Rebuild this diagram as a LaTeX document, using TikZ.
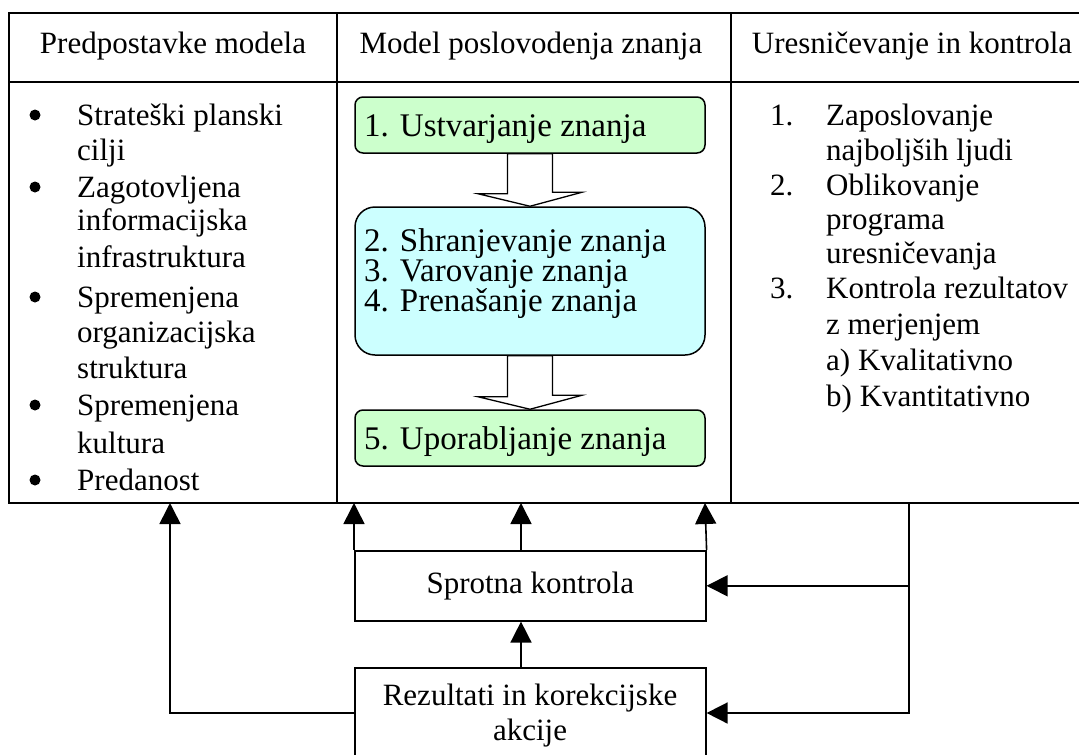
\documentclass[tikz,border=0pt]{standalone}
\usepackage{fontspec}
\setmainfont{Liberation Serif}
\usetikzlibrary{arrows.meta,calc}
\definecolor{boxgreen}{HTML}{CCFFCC}
\definecolor{boxcyan}{HTML}{CCFFFF}
\newcommand{\numitem}[2]{#1\hspace{11pt}#2}
\begin{document}
\begin{tikzpicture}[x=1pt,y=-1pt,
  font=\fontsize{31}{36}\selectfont,
  frame/.style={line width=2pt},
  conn/.style={line width=1.6pt,-{Triangle[width=21pt,length=21pt]}},
  gbox/.style={draw,line width=1.5pt,fill=boxgreen,rounded corners=8pt,minimum width=350pt,minimum height=56pt,inner sep=0pt},
  cbox/.style={draw,line width=1.5pt,fill=boxcyan,rounded corners=20pt,minimum width=350pt,minimum height=148pt,inner sep=0pt},
  rbox/.style={draw,line width=1.6pt,fill=white,minimum width=351pt,inner sep=0pt},
  blockarr/.style={draw,line width=1.3pt,fill=white,line join=miter},
  txt/.style={anchor=base west,inner sep=0pt},
  mtxt/.style={anchor=base west,inner sep=0pt,font=\fontsize{33}{36}\selectfont},
  ctxt/.style={anchor=base,inner sep=0pt},
  dot/.style={circle,fill=black,inner sep=0pt,minimum size=11pt},
]
\useasboundingbox (0,0) rectangle (1079,755);
\begin{scope}
\clip (0,0) rectangle (1079,755);
% table
\draw[frame] (1090,13) -- (9,13) -- (9,503) -- (1090,503);
\draw[frame] (9,82) -- (1090,82);
\draw[frame] (337,13) -- (337,503);
\draw[frame] (731,13) -- (731,503);
% headers
\node[ctxt] (h1) at (173,53) {Predpostavke modela};
\node[ctxt] (h2) at (531,53) {Model poslovodenja znanja};
\node[ctxt] (h3) at (912,53) {Uresničevanje in kontrola};
% left column
\node[dot] (b1) at (35,115) {};
\node[dot] (b2) at (35,187) {};
\node[dot] (b3) at (35,297) {};
\node[dot] (b4) at (35,405) {};
\node[dot] (b5) at (35,480) {};
\node[txt] (l1) at (77,125) {Strateški planski};
\node[txt] (l2) at (77,160) {cilji};
\node[txt] (l3) at (77,197) {Zagotovljena};
\node[txt] (l4) at (77,230) {informacijska};
\node[txt] (l5) at (77,267) {infrastruktura};
\node[txt] (l6) at (77,307) {Spremenjena};
\node[txt] (l7) at (77,342) {organizacijska};
\node[txt] (l8) at (77,378) {struktura};
\node[txt] (l9) at (77,415) {Spremenjena};
\node[txt] (l10) at (77,453) {kultura};
\node[txt] (l11) at (77,490) {Predanost};
% right column
\node[txt] (n1) at (770,125) {1.};
\node[txt] (r1) at (826,125) {Zaposlovanje};
\node[txt] (r2) at (826,160) {najboljših ljudi};
\node[txt] (n2) at (770,195) {2.};
\node[txt] (r3) at (826,195) {Oblikovanje};
\node[txt] (r4) at (826,229) {programa};
\node[txt] (r5) at (826,263) {uresničevanja};
\node[txt] (n3) at (770,298) {3.};
\node[txt] (r6) at (826,298) {Kontrola rezultatov};
\node[txt] (r7) at (826,334) {z merjenjem};
\node[txt] (r8) at (826,370) {a)\ Kvalitativno};
\node[txt] (r9) at (826,406) {b)\ Kvantitativno};
% middle boxes
\node[gbox] (g1) at (530,125) {};
\node[cbox] (c) at (530,281) {};
\node[gbox] (g5) at (530,438) {};
\node[mtxt] (m1) at (364,136) {\numitem{1.}{Ustvarjanje znanja}};
\node[mtxt] (m2) at (364,251) {\numitem{2.}{Shranjevanje znanja}};
\node[mtxt] (m3) at (364,281) {\numitem{3.}{Varovanje znanja}};
\node[mtxt] (m4) at (364,311) {\numitem{4.}{Prenašanje znanja}};
\node[mtxt] (m5) at (364,449) {\numitem{5.}{Uporabljanje znanja}};
% block arrows
\draw[blockarr] ([xshift=-22.5pt]g1.south) -- ++(0,40) -- ++(-29.5,0) -- (c.north) -- ++(52,-14) -- ++(-29.5,0) -- ([xshift=22.5pt]g1.south) -- cycle;
\draw[blockarr] ([xshift=-22.5pt]c.south) -- ++(0,41) -- ++(-29.5,0) -- (g5.north) -- ++(52,-14) -- ++(-29.5,0) -- ([xshift=22.5pt]c.south) -- cycle;
% lower boxes
\node[rbox,minimum height=70pt,anchor=north west] (spr) at (354,550) {Sprotna kontrola};
\node[rbox,minimum height=110pt,anchor=north west] (rez) at (354,667) {};
\node[ctxt] (rz1) at (530,705) {Rezultati in korekcijske};
\node[ctxt] (rz2) at (530,740) {akcije};
% coordinates on table bottom
\coordinate (t1) at (170,503);
\coordinate (t2) at (354,503);
\coordinate (t3) at (521,503);
\coordinate (t4) at (705,503);
\coordinate (t5) at (909,503);
\coordinate (rezL) at ($(rez.north west)+(0,46)$);
\coordinate (rezR) at ($(rez.north east)+(0,46)$);
% connectors
\draw[conn] (rezL) -| (t1);
\draw[conn] (spr.north west) -- (t2);
\draw[conn] (t3 |- spr.north) -- (t3);
\draw[conn] (spr.north east) -- (t4);
\draw[conn] (t3 |- rez.north) -- (t3 |- spr.south);
\draw[conn] (t5) |- (rezR);
\draw[conn] (t5 |- spr.east) -- (spr.east);
\end{scope}
\end{tikzpicture}
\end{document}
